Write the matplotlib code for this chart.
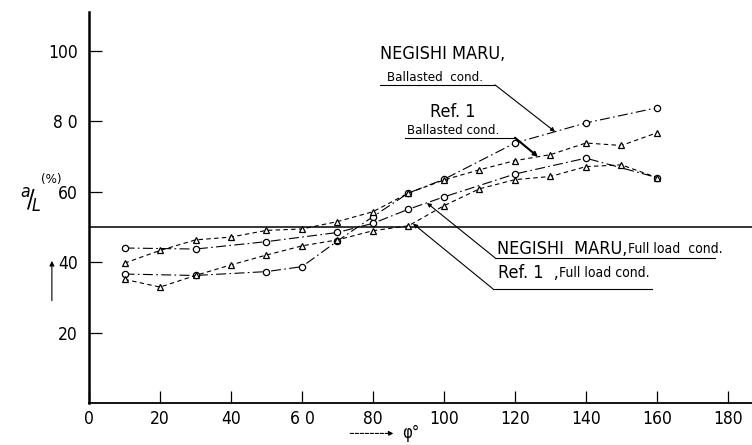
import matplotlib
matplotlib.use('Agg')
import matplotlib.pyplot as plt
from matplotlib.patches import FancyArrowPatch

plt.rcParams['font.family'] = ['DejaVu Sans']
plt.rcParams['font.stretch'] = 'condensed'

# phi (deg) -> a/L (%)
negishi_ballast_phi = [10, 30, 50, 60, 70, 80, 90, 100, 120, 140, 160]
negishi_ballast_val = [36.6, 36.2, 37.3, 38.7, 46.0, 52.9, 59.6, 63.5, 73.8, 79.5, 83.8]

ref1_ballast_phi = [10, 20, 30, 40, 50, 60, 70, 80, 90, 100, 110, 120, 130, 140, 150, 160]
ref1_ballast_val = [39.7, 43.3, 46.3, 47.1, 49.0, 49.4, 51.5, 54.3, 59.6, 63.3, 66.2, 68.8, 70.5, 73.8, 73.1, 76.7]

negishi_full_phi = [10, 30, 50, 70, 80, 90, 100, 120, 140, 160]
negishi_full_val = [44.0, 43.7, 45.8, 48.4, 51.0, 55.0, 58.5, 65.0, 69.5, 64.0]

ref1_full_phi = [10, 20, 30, 40, 50, 60, 70, 80, 90, 100, 110, 120, 130, 140, 150, 160]
ref1_full_val = [35.1, 32.9, 36.2, 39.2, 42.0, 44.6, 46.3, 48.9, 50.3, 56.0, 60.8, 63.4, 64.3, 67.1, 67.6, 64.0]

x_ticks = [0, 20, 40, 60, 80, 100, 120, 140, 160, 180]
x_labels = ['0', '20', '40', '6 0', '80', '100', '120', '140', '160', '180']
y_ticks = [20, 40, 60, 80, 100]
y_labels = ['20', '40', '60', '8 0', '100']

fig = plt.figure(figsize=(7.52, 4.45), dpi=100)
ax = fig.add_axes([0.1184, 0.0944, 0.8816, 0.8787])
ax.set_xlim(0, 186.8)
ax.set_ylim(0, 111)

dashdot = (0, (9, 3, 1.5, 3))
dashed = (0, (4, 3))
kw = dict(color='black', lw=0.8, markerfacecolor='white', markeredgecolor='black', markeredgewidth=0.9)

ax.plot(negishi_ballast_phi, negishi_ballast_val, linestyle=dashdot, marker='o', markersize=4.5, **kw)
ax.plot(negishi_full_phi, negishi_full_val, linestyle=dashdot, marker='o', markersize=4.5, **kw)
ax.plot(ref1_ballast_phi, ref1_ballast_val, linestyle=dashed, marker='^', markersize=5, **kw)
ax.plot(ref1_full_phi, ref1_full_val, linestyle=dashed, marker='^', markersize=5, **kw)

ax.axhline(50, color='black', lw=1.1, zorder=0)

for s in ['top', 'right']:
    ax.spines[s].set_visible(False)
ax.spines['left'].set_linewidth(1.8)
ax.spines['bottom'].set_linewidth(1.3)

ax.set_xticks(x_ticks)
ax.set_yticks(y_ticks)
ax.set_xticklabels(x_labels)
ax.set_yticklabels(y_labels)
ax.tick_params(direction='in', length=9, width=0.9, labelsize=12.5, pad=5)
ax.tick_params(axis='y', pad=8)


def label(parts, x, y, x0, x1, yline, tip, lw=0.8):
    # text (+ smaller suffix), underline, leader line to the curve
    t = ax.text(x, y, parts[0][0], fontsize=parts[0][1], va='center', ha='left')
    if len(parts) > 1:
        ax.annotate(parts[1][0], xycoords=t, xy=(1, 0.12), va='bottom', ha='left',
                    fontsize=parts[1][1])
    ax.plot([x1, x0], [yline, yline], color='black', lw=0.8)
    ax.annotate('', xy=tip, xytext=(x1 if tip[0] > x1 else x0, yline),
                arrowprops=dict(arrowstyle='-|>', color='black', lw=lw, mutation_scale=6,
                                shrinkA=0, shrinkB=0))


ax.text(82, 99.0, 'NEGISHI MARU,', fontsize=13, va='center', ha='left')
label([('Ballasted  cond.', 9.5)], 84, 92.4, 82, 114.4, 90.3, (131.3, 77.0))
ax.text(96, 82.6, 'Ref. 1', fontsize=13, va='center', ha='left')
label([('Ballasted cond.', 9.5)], 89.6, 77.3, 89.0, 120.0, 75.3, (126.5, 69.9), lw=1.5)

label([('NEGISHI  MARU,', 13), ('Full load  cond.', 10)], 115, 43.75, 114.4, 176.3, 41.2, (95.2, 56.8))
label([('Ref. 1  ,', 13), ('Full load cond.', 10)], 115.2, 36.8, 113.8, 158.6, 32.4, (91.3, 50.9))

# axis labels
fig.text(0.027, 0.548, r'$^{a}\!/\!_{L}$', fontsize=18, ha='left', va='center')
fig.text(0.054, 0.597, '(%)', fontsize=9.5, ha='left', va='center')
fig.patches.append(FancyArrowPatch((0.069, 0.318), (0.069, 0.42),
                   transform=fig.transFigure, arrowstyle='-|>', mutation_scale=7,
                   color='black', lw=0.8))
fig.patches.append(FancyArrowPatch((0.462, 0.026), (0.527, 0.026),
                   transform=fig.transFigure, arrowstyle='-|>', mutation_scale=7,
                   color='black', lw=0.8, linestyle=(0, (3, 1.5))))
fig.text(0.535, 0.027, 'φ°', fontsize=12, ha='left', va='center')

fig.savefig('out.png', dpi=100)
